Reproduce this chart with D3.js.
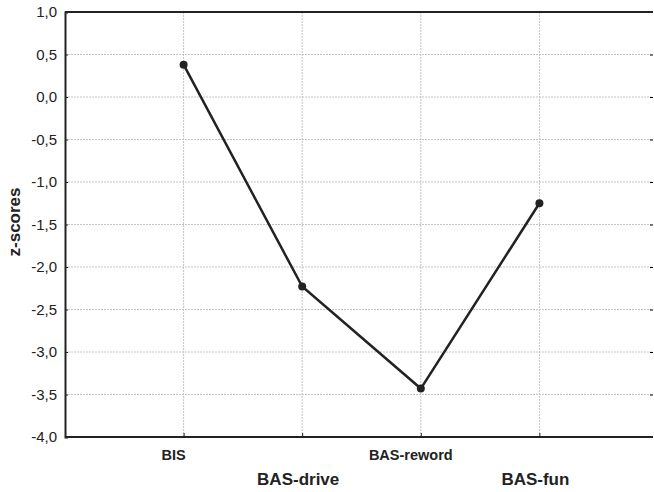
<!DOCTYPE html>
<html>
<head>
<meta charset="utf-8">
<script src="https://cdn.jsdelivr.net/npm/d3@7"></script>
<style>
  body { margin: 0; background: #fff; }
  text { font-family: "Liberation Sans", Arial, sans-serif; fill: #222; }
</style>
</head>
<body>
<div id="chart"></div>
<script>
// scale names and their mean z-scores
var categories = ["BIS", "BAS-drive", "BAS-reword", "BAS-fun"];
var zscores = [0.38, -2.23, -3.43, -1.25];
var yTicks = [1.0, 0.5, 0.0, -0.5, -1.0, -1.5, -2.0, -2.5, -3.0, -3.5, -4.0];

var width = 654, height = 492;
// note: can't call these "top" -- window.top is read only
var plotL = 65, plotT = 12, plotR = 653, plotB = 437;

var svg = d3.select("#chart").append("svg")
  .attr("width", width)
  .attr("height", height);

var x = d3.scalePoint()
  .domain(categories)
  .range([plotL, 658])
  .padding(1);

var y = d3.scaleLinear()
  .domain([-4, 1])
  .range([plotB, plotT]);

var fmt = function(v) { return d3.format(".1f")(v).replace(".", ",").replace("−", "-"); };

// grid lines (dashed)
svg.append("g").selectAll("line.hgrid")
  .data(yTicks.filter(function(d) { return d > -4 && d < 1; }))
  .enter().append("line")
  .attr("class", "hgrid")
  .attr("x1", plotL).attr("x2", plotR)
  .attr("y1", function(d) { return y(d); })
  .attr("y2", function(d) { return y(d); })
  .attr("stroke", "#c4c4c4")
  .attr("stroke-width", 1)
  .attr("stroke-dasharray", "2,1");

svg.append("g").selectAll("line.vgrid")
  .data(categories)
  .enter().append("line")
  .attr("class", "vgrid")
  .attr("x1", function(d) { return x(d); })
  .attr("x2", function(d) { return x(d); })
  .attr("y1", plotT).attr("y2", plotB)
  .attr("stroke", "#c4c4c4")
  .attr("stroke-width", 1)
  .attr("stroke-dasharray", "2,1");

// y axis with inner ticks
var yAxis = svg.append("g")
  .attr("transform", "translate(" + plotL + ",0)")
  .call(d3.axisLeft(y).tickValues(yTicks).tickFormat(fmt).tickSize(-3).tickPadding(8));
yAxis.select(".domain").attr("stroke", "#222").attr("stroke-width", 2);
yAxis.selectAll(".tick line").attr("stroke", "#222");
yAxis.selectAll(".tick text")
  .attr("font-size", "15px")
  .style("font-family", "'Liberation Sans', Arial, sans-serif")
  .attr("fill", "#222");

// right edge ticks
svg.append("g")
  .attr("transform", "translate(" + plotR + ",0)")
  .call(d3.axisRight(y).tickValues(yTicks).tickFormat("").tickSize(-3))
  .select(".domain").remove();

// bottom axis (ticks inside)
var xAxis = svg.append("g")
  .attr("transform", "translate(0," + plotB + ")")
  .call(d3.axisBottom(x).tickSize(-4).tickFormat(""));
xAxis.select(".domain").attr("stroke", "#222").attr("stroke-width", 2)
  .attr("d", "M" + plotL + ",0H" + plotR);
xAxis.selectAll(".tick line").attr("stroke", "#222");

// top frame line
svg.append("line")
  .attr("x1", plotL).attr("x2", plotR)
  .attr("y1", plotT).attr("y2", plotT)
  .attr("stroke", "#222").attr("stroke-width", 2);

// category labels, alternating rows
svg.append("g").selectAll("text.cat")
  .data(categories)
  .enter().append("text")
  .attr("class", "cat")
  .attr("x", function(d, i) { return x(d) + (i % 2 === 0 ? -10 : -4); })
  .attr("y", function(d, i) { return i % 2 === 0 ? 460 : 485; })
  .attr("text-anchor", "middle")
  .attr("font-weight", "bold")
  .attr("font-size", function(d, i) { return i % 2 === 0 ? "14.5px" : "17px"; })
  .text(function(d) { return d; });

// y label
svg.append("text")
  .attr("transform", "translate(20,222) rotate(-90)")
  .attr("text-anchor", "middle")
  .attr("font-weight", "bold")
  .attr("font-size", "17px")
  .text("z-scores");

// the line and its markers
var line = d3.line()
  .x(function(d, i) { return x(categories[i]); })
  .y(function(d) { return y(d); });

svg.append("path")
  .datum(zscores)
  .attr("d", line)
  .attr("fill", "none")
  .attr("stroke", "#222")
  .attr("stroke-width", 2.5);

svg.append("g").selectAll("circle")
  .data(zscores)
  .enter().append("circle")
  .attr("cx", function(d, i) { return x(categories[i]); })
  .attr("cy", function(d) { return y(d); })
  .attr("r", 4)
  .attr("fill", "#222");
</script>
</body>
</html>
